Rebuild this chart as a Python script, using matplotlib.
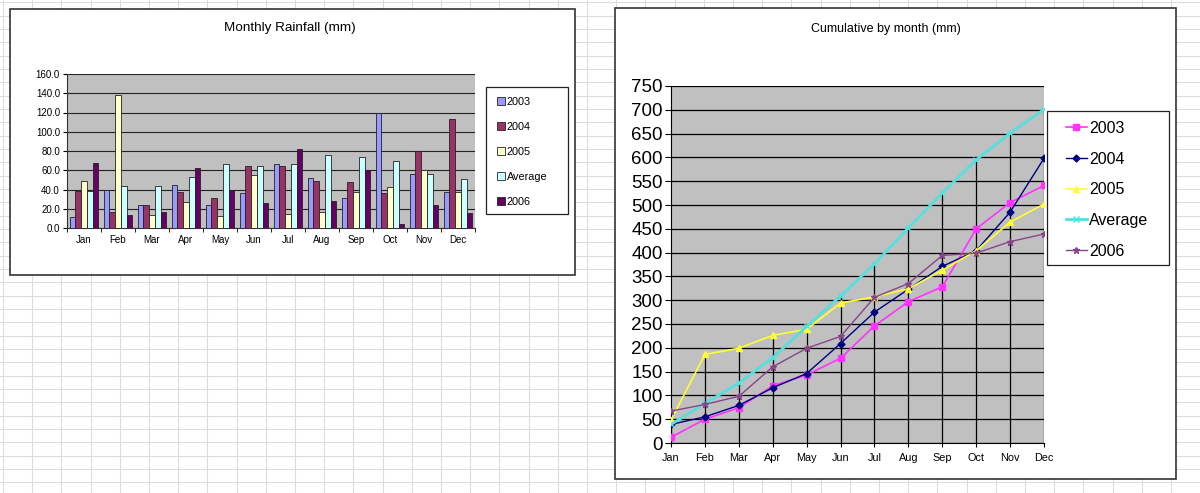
import numpy as np
import matplotlib
matplotlib.use("Agg")
import matplotlib.pyplot as plt
from matplotlib.patches import Rectangle

plt.rcParams['font.family'] = ['Liberation Sans', 'DejaVu Sans']

months = ['Jan', 'Feb', 'Mar', 'Apr', 'May', 'Jun', 'Jul', 'Aug', 'Sep', 'Oct', 'Nov', 'Dec']
series_names = ['2003', '2004', '2005', 'Average', '2006']

# monthly rainfall (mm)
rain_2003 = [11.0, 39.7, 23.8, 45.0, 23.8, 36.0, 67.0, 51.8, 31.4, 120.0, 56.3, 37.0]
rain_2004 = [38.7, 16.6, 23.8, 37.0, 31.0, 64.0, 64.6, 48.4, 47.7, 36.3, 79.5, 113.0]
rain_2005 = [48.4, 138.0, 13.8, 27.0, 12.4, 55.0, 14.5, 16.6, 37.0, 42.5, 59.8, 37.0]
rain_avg = [38.7, 44.0, 43.5, 53.0, 66.0, 64.0, 67.0, 76.0, 73.6, 69.5, 56.0, 50.8]
rain_2006 = [68.0, 14.0, 16.6, 62.0, 39.7, 26.0, 82.0, 28.0, 60.5, 4.5, 24.0, 16.0]

# cumulative by month (mm)
cum_2003 = [12, 50, 74, 120, 143, 178, 246, 297, 328, 450, 505, 541]
cum_2004 = [39, 55, 79, 116, 146, 209, 275, 323, 371, 404, 485, 598]
cum_2005 = [48, 186, 199, 226, 239, 294, 307, 324, 363, 404, 464, 502]
cum_avg = [39, 83, 126, 179, 245, 309, 376, 452, 525, 595, 651, 701]
cum_2006 = [67, 81, 98, 160, 199, 224, 306, 335, 394, 399, 423, 439]

bar_colors = ['#9999ff', '#993366', '#ffffcc', '#ccffff', '#660066']
line_colors = ['#ff33ff', '#000080', '#ffff33', '#55e0e0', '#884488']
markers = ['s', 'D', '^', 'x', '*']

W, H = 1200, 493
fig = plt.figure(figsize=(W / 100, H / 100), dpi=100)


def fbox(x0, y0, x1, y1):
    # pixel box (top-left origin) -> figure fraction rect
    return [x0 / W, (H - y1) / H, (x1 - x0) / W, (y1 - y0) / H]


def fpt(px, py):
    return (px / W, 1 - py / H)


# spreadsheet backdrop
bg = fig.add_axes([0, 0, 1, 1])
bg.set_xlim(0, W)
bg.set_ylim(H, 0)
bg.axis('off')
for y in np.arange(2.3, H, 13.33):
    bg.axhline(y, color='#dcdcdc', lw=0.8, zorder=0)
for x in np.arange(3, W, 29.2):
    bg.axvline(x, color='#dcdcdc', lw=0.8, zorder=0)
bg.add_patch(Rectangle((10, 9), 565, 266, facecolor='white', edgecolor='#333333', lw=1.2, zorder=1))
bg.add_patch(Rectangle((615, 8), 561, 471, facecolor='white', edgecolor='#333333', lw=1.2, zorder=1))
# legend frames
bg.add_patch(Rectangle((486, 87), 82, 127, facecolor='white', edgecolor='#222222', lw=0.9, zorder=2))
bg.add_patch(Rectangle((1047, 111), 122, 154, facecolor='white', edgecolor='#222222', lw=0.9, zorder=2))
bg.text(290, 28, 'Monthly Rainfall (mm)', ha='center', va='center', fontsize=9.7, zorder=2)
bg.text(886, 29, 'Cumulative by month (mm)', ha='center', va='center', fontsize=9, zorder=2)

# ---- left: monthly bars ----
ax1 = fig.add_axes(fbox(67, 74, 475, 228))
ax1.set_facecolor('#c0c0c0')
x = np.arange(len(months))
bw = 0.168
rain = [rain_2003, rain_2004, rain_2005, rain_avg, rain_2006]
for k, (vals, c) in enumerate(zip(rain, bar_colors)):
    ax1.bar(x + (k - 2) * bw, vals, width=bw, color=c, edgecolor='#222222', linewidth=0.6,
            label=series_names[k], zorder=3)
ax1.set_xlim(-0.5, 11.5)
ax1.set_ylim(0, 160)
ax1.set_yticks(np.arange(0, 161, 20))
ax1.set_yticklabels([f'{v:.1f}' for v in np.arange(0, 161, 20)], fontsize=7)
ax1.set_xticks(x)
ax1.set_xticklabels(months, fontsize=7)
ax1.set_xticks(np.arange(-0.5, 12, 1), minor=True)
ax1.tick_params(axis='x', which='major', length=0, pad=5)
ax1.tick_params(axis='x', which='minor', length=3, direction='out')
ax1.tick_params(axis='y', length=3, direction='out', pad=2)
ax1.grid(axis='y', color='#222222', lw=0.8, zorder=1)
for s in ['top', 'right']:
    ax1.spines[s].set_visible(False)
ax1.spines['left'].set_color('#333333')
ax1.spines['bottom'].set_color('#333333')

leg1 = ax1.legend(loc='upper left', bbox_to_anchor=fpt(497, 97), bbox_transform=fig.transFigure,
                  fontsize=7.8, frameon=False, borderaxespad=0, borderpad=0,
                  handlelength=0.7, handleheight=0.7, handletextpad=0.2, labelspacing=1.38)

# ---- right: cumulative lines ----
ax2 = fig.add_axes(fbox(671, 86, 1044, 443))
ax2.set_facecolor('#c0c0c0')
cum = [cum_2003, cum_2004, cum_2005, cum_avg, cum_2006]
tops = np.max(np.array(cum), axis=0)
ax2.vlines(x, 0, tops, color='black', lw=0.9, zorder=2)
widths = [1.2, 1.0, 1.2, 2.0, 1.0]
msizes = [5, 3.5, 5, 4, 5]
for k, vals in enumerate(cum):
    ax2.plot(x, vals, color=line_colors[k], lw=widths[k], marker=markers[k], ms=msizes[k],
             markeredgewidth=1, label=series_names[k], zorder=3 + k)
ax2.set_xlim(0, 11)
ax2.set_ylim(0, 750)
ax2.set_yticks(np.arange(0, 751, 50))
ax2.tick_params(axis='y', labelsize=13.5, length=4, direction='out', pad=2)
ax2.set_xticks(x)
ax2.set_xticklabels(months, fontsize=7.8)
ax2.tick_params(axis='x', length=3, direction='out', pad=4)
ax2.grid(axis='y', color='black', lw=0.9, zorder=1)
for s in ['top', 'right']:
    ax2.spines[s].set_visible(False)

leg2 = ax2.legend(loc='upper left', bbox_to_anchor=fpt(1066, 121), bbox_transform=fig.transFigure,
                  fontsize=11.5, frameon=False, borderaxespad=0, borderpad=0,
                  handlelength=1.3, handletextpad=0.15, labelspacing=0.98)

fig.savefig('out.png', dpi=100)
